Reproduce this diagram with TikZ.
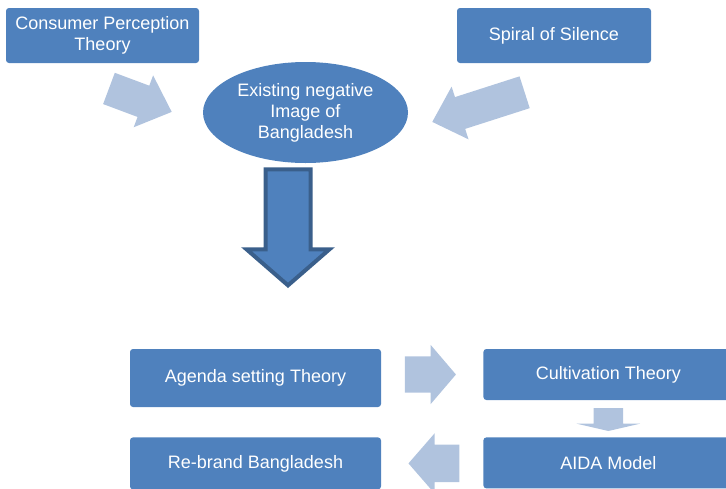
\documentclass[tikz,border=0pt]{standalone}
\usepackage{fontspec}
\setmainfont{Liberation Sans}
\usetikzlibrary{positioning,shapes.geometric,shapes.arrows,calc}
\definecolor{boxblue}{RGB}{79,129,189}
\definecolor{arrowlight}{RGB}{176,195,222}
\definecolor{arrowdark}{RGB}{58,95,139}

\begin{document}
\begin{tikzpicture}[
  x=1pt, y=-1pt,
  every node/.style={font=\fontsize{18}{21}\selectfont, text=white},
  theorybox/.style={rectangle, fill=boxblue, rounded corners=3pt,
    align=center, inner sep=0pt},
  flowarrow/.style={single arrow, fill=arrowlight, inner xsep=0pt,
    inner ysep=16.5pt, single arrow head extend=11pt, anchor=tip},
]
\clip (0,0) rectangle (726,488);

% Top: theories feeding the image
\node[theorybox, minimum width=193pt, minimum height=55pt] (cpt) at (102.5,35.5) {Consumer Perception\\ Theory};
\node[theorybox, minimum width=194pt, minimum height=55pt] (sos) at (554,35.5) {Spiral of Silence};
\node[ellipse, fill=boxblue, minimum width=205pt, minimum height=101pt,
  align=center, inner sep=0pt] (img) at (305.5,112.5) {Existing negative\\ Image of\\ Bangladesh};

\node[flowarrow, minimum height=67pt,
  single arrow tip angle=85, rotate=-20.5] (cptarrow) at (172,112) {};
\node[flowarrow, minimum height=97pt,
  single arrow tip angle=87, rotate=-162.2] (sosarrow) at (432,122) {};

% Big arrow down
\node[single arrow, fill=boxblue, draw=arrowdark, line width=4pt, anchor=tip,
  inner xsep=0pt, inner ysep=20.5pt, minimum height=116pt, single arrow head extend=19pt,
  single arrow tip angle=98, rotate=-90] (downarrow) at (288,288) {};

% Bottom: chain of theories
\node[theorybox, minimum width=251pt, minimum height=58pt] (agenda) at (255.5,378) {Agenda setting Theory};
\node[theorybox, minimum width=251pt, minimum height=52pt, below=30pt of agenda] (rebrand) {Re-brand Bangladesh};
\node[theorybox, minimum width=250pt, minimum height=51pt,
  right=102pt of agenda.north east, anchor=north west] (cult) {Cultivation Theory};
\node[theorybox, minimum width=250pt, minimum height=51pt, below=37pt of cult] (aida) {AIDA Model};

\node[flowarrow, minimum height=51pt, inner ysep=18pt, single arrow head extend=11.5pt,
  single arrow tip angle=99, left=27pt of cult.west, anchor=tip] (toCult) {};
\node[flowarrow, minimum height=23pt, inner ysep=14.5pt, single arrow head extend=17pt,
  single arrow tip angle=154, rotate=-90, above=6pt of aida.north, anchor=tip] (toAida) {};
\node[flowarrow, minimum height=51pt, inner ysep=18.5pt, single arrow head extend=11.5pt,
  single arrow tip angle=98, rotate=180, right=27pt of rebrand.east, anchor=tip] (toRebrand) {};

\end{tikzpicture}
\end{document}
